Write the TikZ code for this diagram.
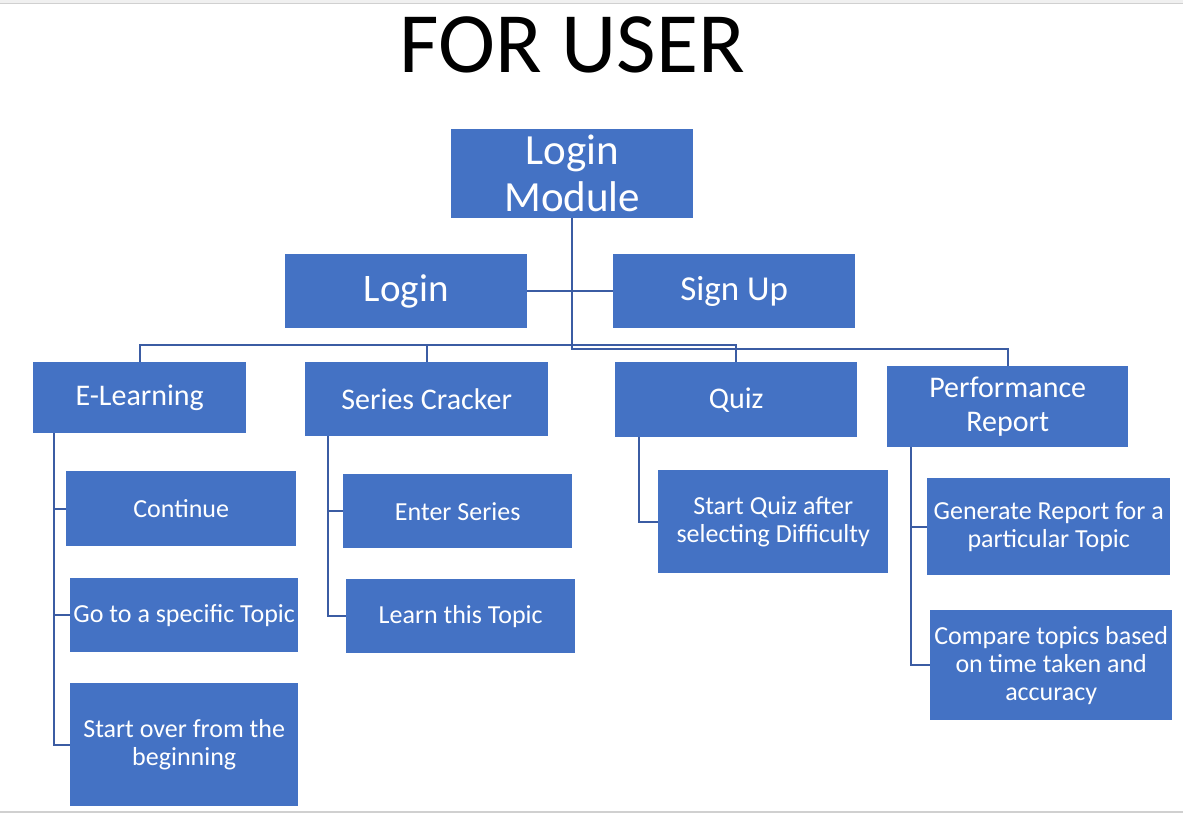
\documentclass[tikz,border=0pt]{standalone}
\usepackage{fontspec}
\setmainfont{Carlito}
\definecolor{boxblue}{HTML}{4472C4}
\definecolor{lineblue}{HTML}{3B5CA3}
\definecolor{edgegray}{HTML}{D0D0D0}
\definecolor{stripgray}{HTML}{F0F0F0}
\begin{document}
\begin{tikzpicture}[x=1pt,y=-1pt,
  box/.style={fill=boxblue, text=white, inner sep=0pt, anchor=north west, align=center},
  fl/.style={font=\fontsize{43}{47}\selectfont},
  fm/.style={font=\fontsize{30}{34}\selectfont},
  fs/.style={font=\fontsize{26}{28}\selectfont},
  conn/.style={draw=lineblue, line width=2pt}]
\useasboundingbox[fill=white] (0,0) rectangle (1183,815);
\fill[stripgray] (0,0) rectangle (1183,3);
\draw[edgegray, line width=1pt] (0,3.5) -- (1183,3.5);
\draw[edgegray, line width=2pt] (0,812) -- (1183,812);
\node[font=\fontsize{86}{90}\selectfont, anchor=base, inner sep=0pt] (title) at (572.5,72) {FOR USER};
% level 1
\node[box, fl, minimum width=242pt, minimum height=89pt] (lm) at (451,129) {Login\\Module};
\node[box, font=\fontsize{39}{44}\selectfont, minimum width=242pt, minimum height=74pt] (login) at (285,254) {Login};
\node[box, font=\fontsize{35}{40}\selectfont, minimum width=242pt, minimum height=74pt] (signup) at (613,254) {Sign Up};
% level 2
\node[box, fm, minimum width=213pt, minimum height=71pt] (el) at (33,362) {E-Learning};
\node[box, fm, minimum width=243pt, minimum height=74pt] (sc) at (305,362) {Series Cracker};
\node[box, fm, minimum width=242pt, minimum height=75pt] (quiz) at (615,362) {Quiz};
\node[box, fm, minimum width=241pt, minimum height=81pt] (perf) at (887,366) {Performance\\Report};
% level 3
\node[box, fs, minimum width=230pt, minimum height=75pt] (cont) at (66,471) {Continue};
\node[box, fs, minimum width=228pt, minimum height=74pt] (goto) at (70,578) {Go to a specific Topic};
\node[box, fs, minimum width=228pt, minimum height=123pt] (start) at (70,683) {Start over from the\\beginning};
\node[box, fs, minimum width=229pt, minimum height=74pt] (ent) at (343,474) {Enter Series};
\node[box, fs, minimum width=229pt, minimum height=74pt] (learn) at (346,579) {Learn this Topic};
\node[box, fs, minimum width=230pt, minimum height=103pt] (sq) at (658,470) {Start Quiz after\\selecting Difficulty};
\node[box, fs, minimum width=243pt, minimum height=97pt] (gen) at (927,478) {Generate Report for a\\particular Topic};
\node[box, fs, minimum width=242pt, minimum height=110pt] (cmp) at (930,610) {Compare topics based\\on time taken and\\accuracy};
% connectors
\draw[conn] (login.east) -- (signup.west);
\draw[conn] (lm.south) -- ++(0,131) -| (perf.north);
\draw[conn] (el.north) -- ++(0,-17) -| (quiz.north);
\draw[conn] (sc.north) -- ++(0,-17);
\draw[conn] ([xshift=20.5pt]el.south west) |- (cont.west);
\draw[conn] ([xshift=20.5pt]el.south west) |- (goto.west);
\draw[conn] ([xshift=20.5pt]el.south west) |- (start.west);
\draw[conn] ([xshift=23pt]sc.south west) |- (ent.west);
\draw[conn] ([xshift=23pt]sc.south west) |- (learn.west);
\draw[conn] ([xshift=24pt]quiz.south west) |- (sq.west);
\draw[conn] ([xshift=24pt]perf.south west) |- (gen.west);
\draw[conn] ([xshift=24pt]perf.south west) |- (cmp.west);
\end{tikzpicture}
\end{document}
